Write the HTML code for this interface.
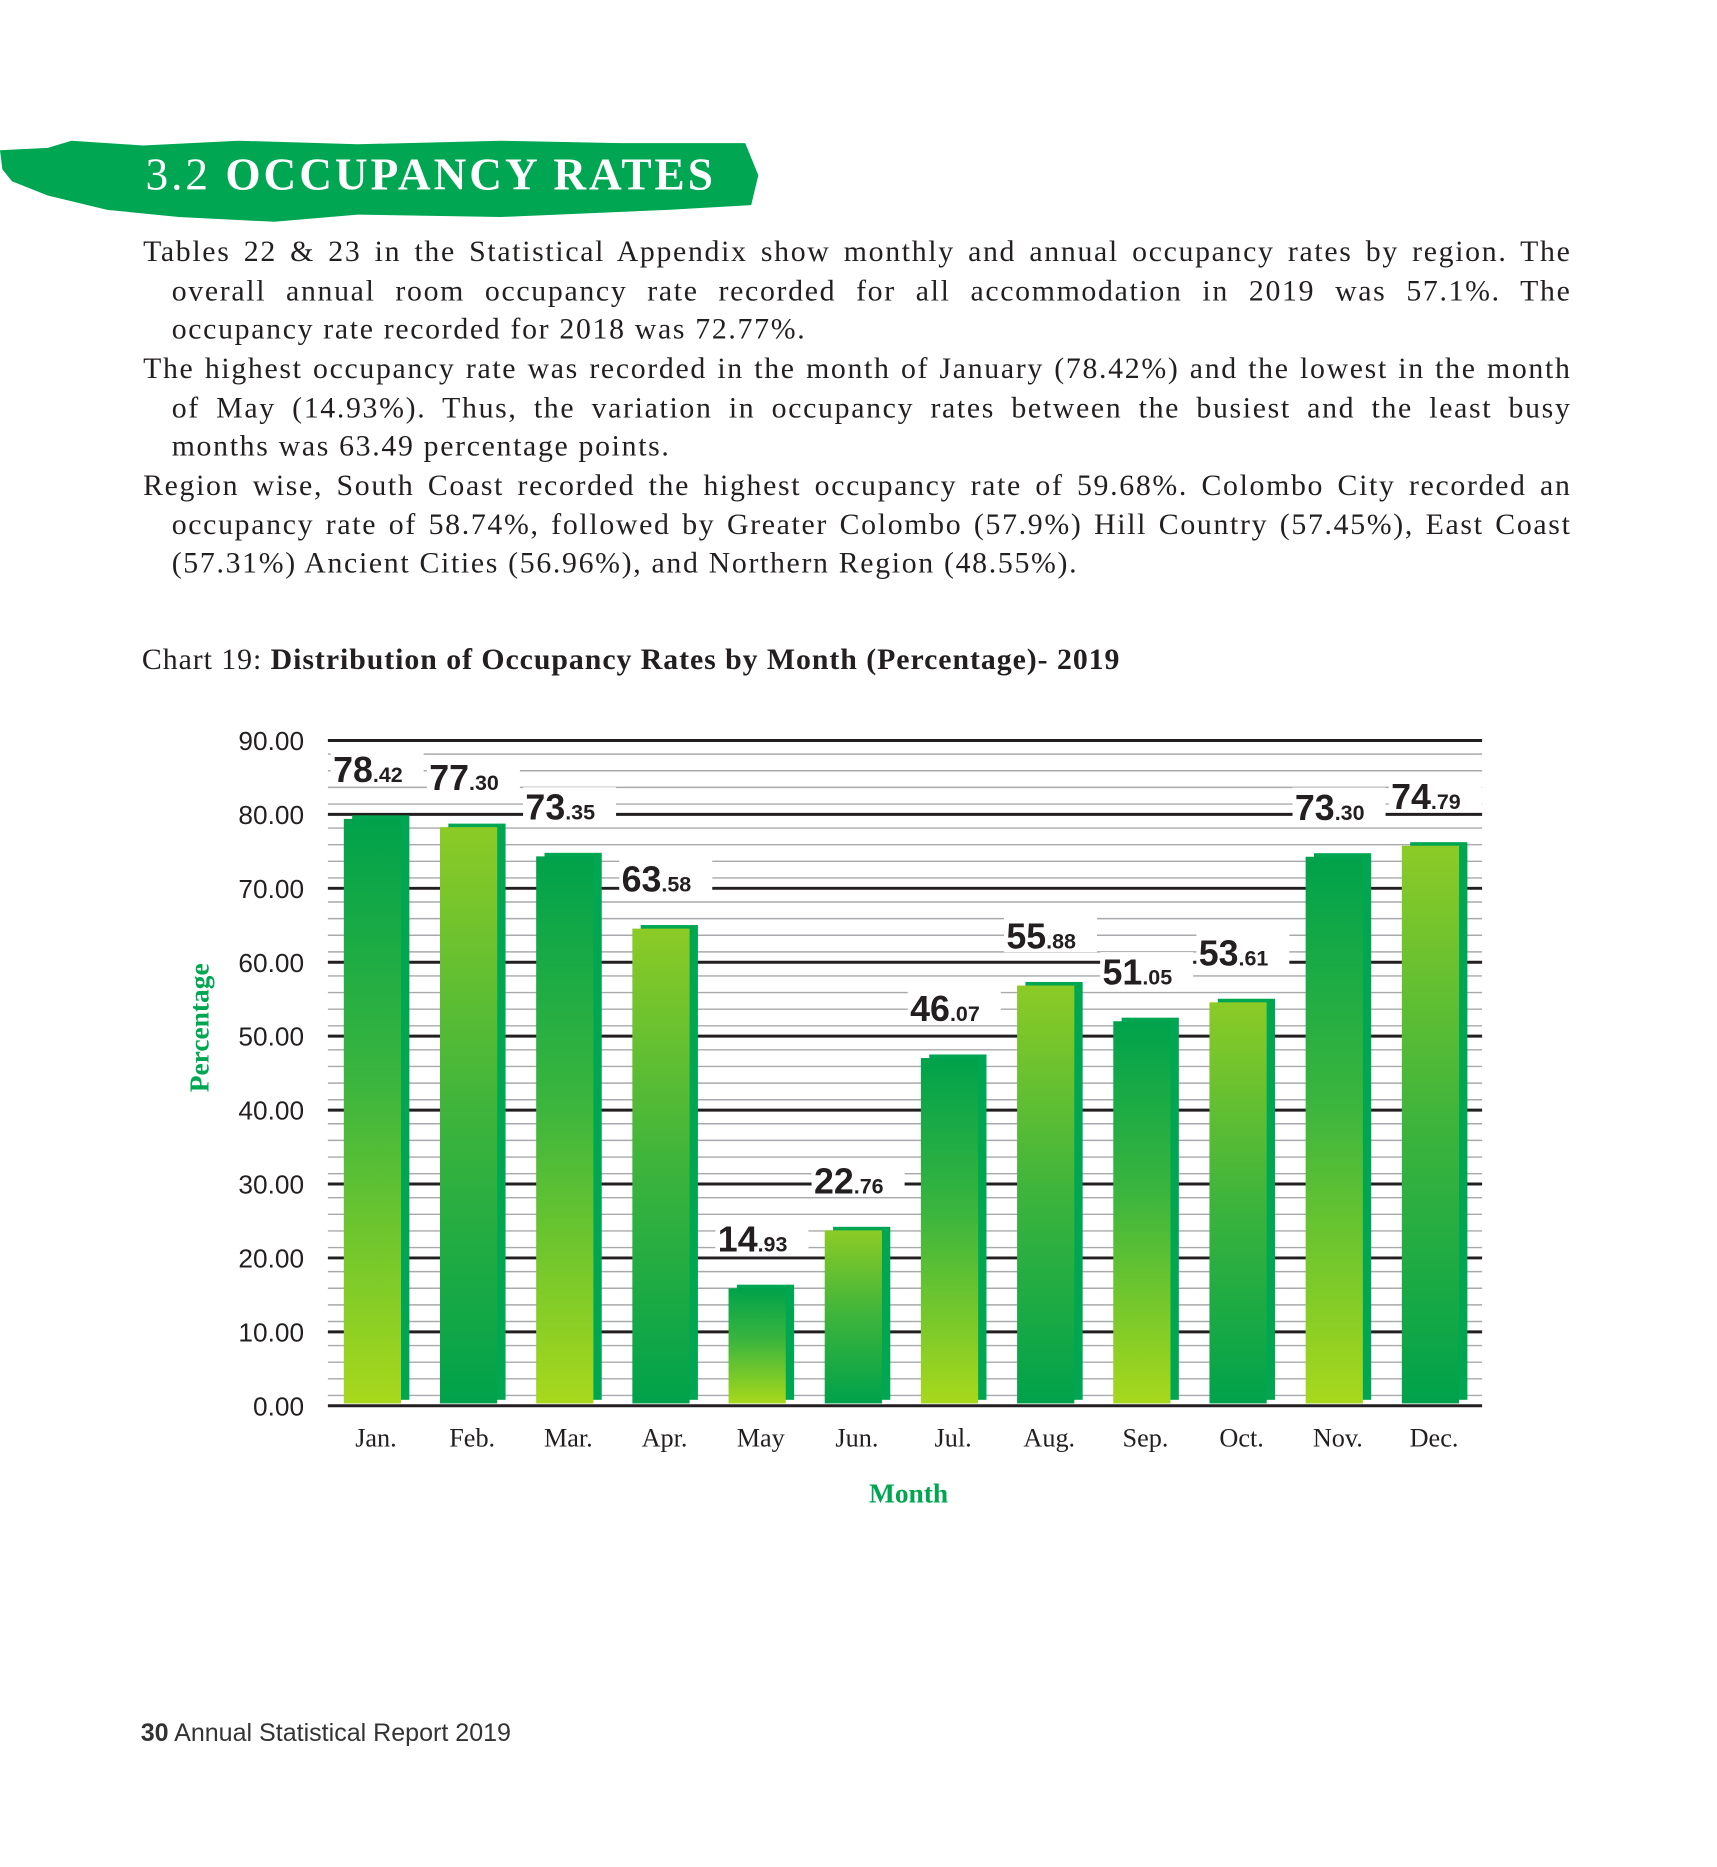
<!DOCTYPE html>
<html><head><meta charset="utf-8"><style>
html,body{margin:0;padding:0;background:#fff;width:1717px;height:1867px;overflow:hidden}
#page{position:absolute;left:0;top:0;width:1440px;height:1566px;transform:scale(1.19236);transform-origin:0 0;font-family:"Liberation Serif",serif;color:#231f20}
.p{position:absolute;left:120px;width:1198px;font-size:25px;line-height:32.5px;letter-spacing:1.4px}
.p div{text-align:justify;text-align-last:justify;white-space:nowrap;overflow:visible}
.p div.last{text-align-last:left}
.p div.in{padding-left:24px}
</style></head><body>
<div id="page">
<svg style="position:absolute;left:0;top:112px" width="650" height="80">
<path d="M0,14 L40,12 L60,6 L120,10 L200,6 L300,9 L420,6 L520,8 L625,8 L636,35 L630,60 L560,64 L420,70 L300,68 L230,74 L150,70 L90,64 L40,52 L10,40 L2,30 Z" fill="#00a651"/>
<text x="122" y="47" fill="#fff" font-family="Liberation Serif, serif" font-size="38" font-weight="bold" letter-spacing="2.5"><tspan font-weight="normal">3.2</tspan> OCCUPANCY RATES</text>
</svg>
<div class="p" style="top:196px">
<div>Tables 22 &amp; 23 in the Statistical Appendix show monthly and annual occupancy rates by region. The</div>
<div class="in">overall annual room occupancy rate recorded for all accommodation in 2019 was 57.1%. The</div>
<div class="in last">occupancy rate recorded for 2018 was 72.77%.</div>
</div>
<div class="p" style="top:294px">
<div>The highest occupancy rate was recorded in the month of January (78.42%) and the lowest in the month</div>
<div class="in">of May (14.93%). Thus, the variation in occupancy rates between the busiest and the least busy</div>
<div class="in last">months was 63.49 percentage points.</div>
</div>
<div class="p" style="top:392px">
<div>Region wise, South Coast recorded the highest occupancy rate of 59.68%. Colombo City recorded an</div>
<div class="in">occupancy rate of 58.74%, followed by Greater Colombo (57.9%) Hill Country (57.45%), East Coast</div>
<div class="in last">(57.31%) Ancient Cities (56.96%), and Northern Region (48.55%).</div>
</div>
<div style="position:absolute;left:119px;top:540px;font-size:25px;letter-spacing:0.8px">Chart 19: <b>Distribution of Occupancy Rates by Month (Percentage)- 2019</b></div>
<svg id="chart" style="position:absolute;left:0;top:0" width="1440" height="1566">
<defs>
<linearGradient id="gDark" x1="0" y1="0" x2="0" y2="1"><stop offset="0" stop-color="#00a24b"/><stop offset="0.45" stop-color="#3bb53e"/><stop offset="1" stop-color="#a8d81c"/></linearGradient>
<linearGradient id="gLight" x1="0" y1="0" x2="0" y2="1"><stop offset="0" stop-color="#8ccb26"/><stop offset="0.5" stop-color="#3db43c"/><stop offset="1" stop-color="#00a24b"/></linearGradient>
</defs>
<g id="grid"></g><g id="bars"></g><g id="labels"></g>
</svg>
<div style="position:absolute;left:118px;top:1442px;font-family:'Liberation Sans',sans-serif;font-size:21px;color:#333"><b>30</b> Annual Statistical Report 2019</div>
</div>
<script>
const months=["Jan.","Feb.","Mar.","Apr.","May","Jun.","Jul.","Aug.","Sep.","Oct.","Nov.","Dec."];
const values=[78.42,77.30,73.35,63.58,14.93,22.76,46.07,55.88,51.05,53.61,73.30,74.79];
const yTicks=[0,10,20,30,40,50,60,70,80,90];
const NS="http://www.w3.org/2000/svg";
const L=275,R=1243,Y0=1179,Y90=621;
const y=v=>Y0-(v/90)*(Y0-Y90);
const bw=(R-L)/months.length;
const xc=i=>L+bw*(i+0.5);
function mk(t,a,p){const e=document.createElementNS(NS,t);for(const k in a)e.setAttribute(k,a[k]);p.appendChild(e);return e;}
const grid=document.getElementById('grid'),bars=document.getElementById('bars'),labels=document.getElementById('labels');
for(let v=0;v<90;v+=10){for(let k=0;k<4;k++){const ln=mk('line',{x1:L,x2:R,y1:y(v+1.4+2.25*k),y2:y(v+1.4+2.25*k),stroke:'#a7a9ac','stroke-width':1.2},grid);

}}
yTicks.forEach(v=>{const ln=mk('line',{x1:L,x2:R,y1:y(v),y2:y(v),stroke:'#231f20','stroke-width':2.5},grid);


const t=mk('text',{x:255,y:y(v)+8,'text-anchor':'end','font-size':22,'font-family':'Liberation Sans, sans-serif',fill:'#231f20'},grid);


t.textContent=v.toFixed(2);});
const yt=mk('text',{x:0,y:0,transform:'translate(175,862) rotate(-90)','text-anchor':'middle','font-size':23,'font-weight':'bold','font-family':'Liberation Serif, serif',fill:'#00a651'},grid);


yt.textContent='Percentage';
const xt=mk('text',{x:762,y:1260,'text-anchor':'middle','font-size':23,'font-weight':'bold','font-family':'Liberation Serif, serif',fill:'#00a651'},grid);


xt.textContent='Month';
values.forEach((v,i)=>{const c=xc(i),top=y(v)-6,w=48,x0=c-27;
const back=mk('rect',{x:x0+7,y:top-3,width:w,height:(Y0-5)-(top-3),fill:'#00a651'},bars);


const f=mk('rect',{x:x0,y:top,width:w,height:Y0-2-top,fill:i%2?'url(#gLight)':'url(#gDark)'},bars);


const m=mk('text',{x:c,y:1213,'text-anchor':'middle','font-size':22,'font-family':'Liberation Serif, serif',fill:'#231f20'},labels);


m.textContent=months[i];
const parts=v.toFixed(2).split('.');
const bg=mk('rect',{x:c-38,y:top-58,width:78,height:30,fill:'#fff'},labels);


const t=mk('text',{x:c-36,y:top-31,'font-size':30,'font-weight':'bold','font-family':'Liberation Sans, sans-serif',fill:'#231f20'},labels);


const a=mk('tspan',{},t);a.textContent=parts[0];
const b=mk('tspan',{'font-size':18},t);b.textContent='.'+parts[1];
});
</script>
</body></html>
